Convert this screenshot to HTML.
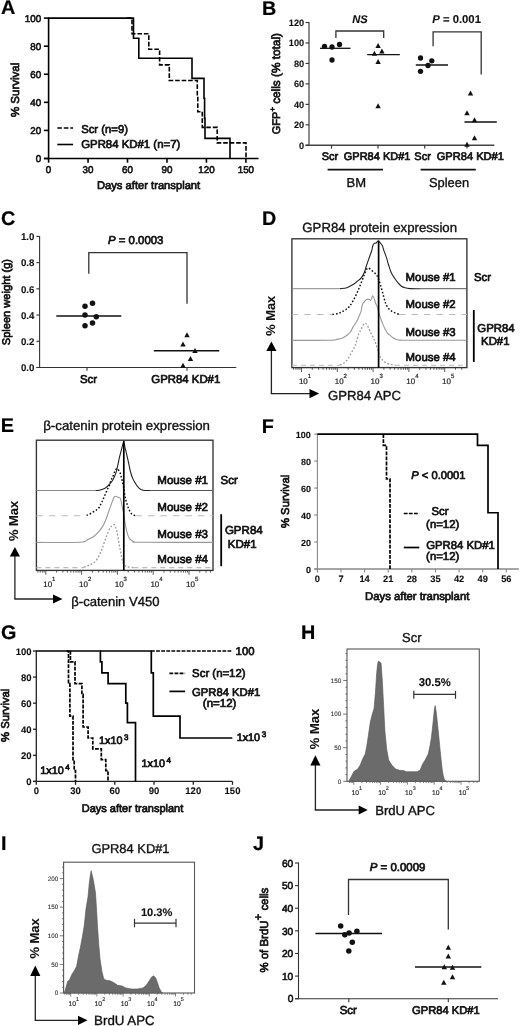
<!DOCTYPE html>
<html><head><meta charset="utf-8"><style>
html,body{margin:0;padding:0;background:#fff;width:520px;height:1026px;overflow:hidden}
svg{display:block}
text{text-rendering:geometricPrecision;font-family:"Liberation Sans", sans-serif}
</style></head><body>
<svg style="filter:blur(0.3px)" xmlns="http://www.w3.org/2000/svg" width="520" height="1026" viewBox="0 0 520 1026">
<rect width="520" height="1026" fill="#fff"/>
<g>
<text x="1" y="13.5" font-size="19.8" fill="#000" font-weight="bold" stroke="#000" stroke-width="0.2">A</text>
<line x1="48.6" y1="17.3" x2="48.6" y2="159.3" stroke="#000" stroke-width="1.6"/>
<line x1="43.9" y1="158.5" x2="258.5" y2="158.5" stroke="#000" stroke-width="1.6"/>
<line x1="43.9" y1="158.5" x2="48.6" y2="158.5" stroke="#000" stroke-width="1.6"/>
<text x="41.1" y="162.25" font-size="9.8" text-anchor="end" fill="#111" stroke="#111" stroke-width="0.6">0</text>
<line x1="43.9" y1="130.42" x2="48.6" y2="130.42" stroke="#000" stroke-width="1.6"/>
<text x="41.1" y="134.17" font-size="9.8" text-anchor="end" fill="#111" stroke="#111" stroke-width="0.6">20</text>
<line x1="43.9" y1="102.34" x2="48.6" y2="102.34" stroke="#000" stroke-width="1.6"/>
<text x="41.1" y="106.09" font-size="9.8" text-anchor="end" fill="#111" stroke="#111" stroke-width="0.6">40</text>
<line x1="43.9" y1="74.26" x2="48.6" y2="74.26" stroke="#000" stroke-width="1.6"/>
<text x="41.1" y="78.01" font-size="9.8" text-anchor="end" fill="#111" stroke="#111" stroke-width="0.6">60</text>
<line x1="43.9" y1="46.18" x2="48.6" y2="46.18" stroke="#000" stroke-width="1.6"/>
<text x="41.1" y="49.93" font-size="9.8" text-anchor="end" fill="#111" stroke="#111" stroke-width="0.6">80</text>
<line x1="43.9" y1="18.1" x2="48.6" y2="18.1" stroke="#000" stroke-width="1.6"/>
<text x="41.1" y="21.85" font-size="9.8" text-anchor="end" fill="#111" stroke="#111" stroke-width="0.6">100</text>
<line x1="48.6" y1="158.5" x2="48.6" y2="162.7" stroke="#000" stroke-width="1.6"/>
<text x="48.6" y="172.9" font-size="9.8" text-anchor="middle" fill="#111" stroke="#111" stroke-width="0.6">0</text>
<line x1="88.06" y1="158.5" x2="88.06" y2="162.7" stroke="#000" stroke-width="1.6"/>
<text x="88.06" y="172.9" font-size="9.8" text-anchor="middle" fill="#111" stroke="#111" stroke-width="0.6">30</text>
<line x1="127.52" y1="158.5" x2="127.52" y2="162.7" stroke="#000" stroke-width="1.6"/>
<text x="127.52" y="172.9" font-size="9.8" text-anchor="middle" fill="#111" stroke="#111" stroke-width="0.6">60</text>
<line x1="166.98" y1="158.5" x2="166.98" y2="162.7" stroke="#000" stroke-width="1.6"/>
<text x="166.98" y="172.9" font-size="9.8" text-anchor="middle" fill="#111" stroke="#111" stroke-width="0.6">90</text>
<line x1="206.44" y1="158.5" x2="206.44" y2="162.7" stroke="#000" stroke-width="1.6"/>
<text x="206.44" y="172.9" font-size="9.8" text-anchor="middle" fill="#111" stroke="#111" stroke-width="0.6">120</text>
<line x1="245.9" y1="158.5" x2="245.9" y2="162.7" stroke="#000" stroke-width="1.6"/>
<text x="245.9" y="172.9" font-size="9.8" text-anchor="middle" fill="#111" stroke="#111" stroke-width="0.6">150</text>
<text x="148.6" y="189" font-size="11.2" text-anchor="middle" fill="#111" stroke="#111" stroke-width="0.7">Days after transplant</text>
<text x="19" y="89.9" font-size="11.5" text-anchor="middle" fill="#111" stroke="#111" stroke-width="0.7" transform="rotate(-90 19 89.9)">% Survival</text>
<line x1="57.3" y1="128" x2="73.1" y2="128" stroke="#000" stroke-width="1.6" stroke-dasharray="4.6 1.9"/>
<text x="81.2" y="132.5" font-size="11.3" fill="#111" stroke="#111" stroke-width="0.7">Scr (n=9)</text>
<line x1="57.3" y1="144.5" x2="73.1" y2="144.5" stroke="#000" stroke-width="1.6"/>
<text x="81.2" y="148.2" font-size="11.4" fill="#111" stroke="#111" stroke-width="0.7">GPR84 KD#1 (n=7)</text>
<path d="M48.6 18.1 L133.5 18.1 L133.5 38.18 L138.8 38.18 L138.8 58.25 L192 58.25 L192 78.33 L204 78.33 L204 98.27 L204.6 98.27 L204.6 118.35 L205 118.35 L205 138.42 L230 138.42 L230 158.5" fill="none" stroke="#000" stroke-width="1.6"/>
<path d="M127 18.1 L132 18.1 L132 33.68 L148.8 33.68 L148.8 49.27 L159.6 49.27 L159.6 64.85 L169.3 64.85 L169.3 80.44 L197.3 80.44 L197.3 96.16 L197.8 96.16 L197.8 111.75 L202.3 111.75 L202.3 127.33 L217.2 127.33 L217.2 142.92 L246 142.92 L246 158.5" fill="none" stroke="#000" stroke-width="1.6" stroke-dasharray="4.6 1.9"/>
<text x="262.1" y="14.7" font-size="19.8" fill="#000" font-weight="bold" stroke="#000" stroke-width="0.2">B</text>
<line x1="309" y1="22" x2="309" y2="145.8" stroke="#666" stroke-width="1.5"/>
<line x1="305.6" y1="145.3" x2="494.3" y2="145.3" stroke="#444" stroke-width="1.4"/>
<line x1="305.6" y1="145.3" x2="309" y2="145.3" stroke="#333" stroke-width="1.15"/>
<text x="304.2" y="148.8" font-size="9.2" text-anchor="end" fill="#111" font-weight="bold" stroke="#111" stroke-width="0.1">0</text>
<line x1="305.6" y1="124.83" x2="309" y2="124.83" stroke="#333" stroke-width="1.15"/>
<text x="304.2" y="128.33" font-size="9.2" text-anchor="end" fill="#111" font-weight="bold" stroke="#111" stroke-width="0.1">20</text>
<line x1="305.6" y1="104.37" x2="309" y2="104.37" stroke="#333" stroke-width="1.15"/>
<text x="304.2" y="107.87" font-size="9.2" text-anchor="end" fill="#111" font-weight="bold" stroke="#111" stroke-width="0.1">40</text>
<line x1="305.6" y1="83.9" x2="309" y2="83.9" stroke="#333" stroke-width="1.15"/>
<text x="304.2" y="87.4" font-size="9.2" text-anchor="end" fill="#111" font-weight="bold" stroke="#111" stroke-width="0.1">60</text>
<line x1="305.6" y1="63.43" x2="309" y2="63.43" stroke="#333" stroke-width="1.15"/>
<text x="304.2" y="66.93" font-size="9.2" text-anchor="end" fill="#111" font-weight="bold" stroke="#111" stroke-width="0.1">80</text>
<line x1="305.6" y1="42.97" x2="309" y2="42.97" stroke="#333" stroke-width="1.15"/>
<text x="304.2" y="46.47" font-size="9.2" text-anchor="end" fill="#111" font-weight="bold" stroke="#111" stroke-width="0.1">100</text>
<line x1="305.6" y1="22.5" x2="309" y2="22.5" stroke="#333" stroke-width="1.15"/>
<text x="304.2" y="26" font-size="9.2" text-anchor="end" fill="#111" font-weight="bold" stroke="#111" stroke-width="0.1">120</text>
<line x1="331.5" y1="145.3" x2="331.5" y2="148.6" stroke="#333" stroke-width="1.15"/>
<line x1="378" y1="145.3" x2="378" y2="148.6" stroke="#333" stroke-width="1.15"/>
<line x1="424.7" y1="145.3" x2="424.7" y2="148.6" stroke="#333" stroke-width="1.15"/>
<line x1="467" y1="145.3" x2="467" y2="148.6" stroke="#333" stroke-width="1.15"/>
<text x="330" y="160.3" font-size="11" text-anchor="middle" fill="#111" stroke="#111" stroke-width="0.7">Scr</text>
<text x="377.1" y="160.3" font-size="11" text-anchor="middle" fill="#111" stroke="#111" stroke-width="0.7">GPR84 KD#1</text>
<text x="422.6" y="160.3" font-size="11" text-anchor="middle" fill="#111" stroke="#111" stroke-width="0.7">Scr</text>
<text x="470.3" y="160.3" font-size="11.1" text-anchor="middle" fill="#111" stroke="#111" stroke-width="0.7">GPR84 KD#1</text>
<line x1="327.6" y1="169.6" x2="383" y2="169.6" stroke="#111" stroke-width="1.8"/>
<line x1="420.6" y1="169.7" x2="475.8" y2="169.7" stroke="#111" stroke-width="1.8"/>
<text x="356.25" y="187.2" font-size="13" text-anchor="middle" fill="#111" stroke="#111" stroke-width="0.35">BM</text>
<text x="449" y="187.2" font-size="12.9" text-anchor="middle" fill="#111" stroke="#111" stroke-width="0.35">Spleen</text>
<text x="280" y="134.2" font-size="11" fill="#111" stroke="#111" stroke-width="0.7" transform="rotate(-90 280 134.2)">GFP<tspan font-size="7.6" dy="-4.6">+</tspan><tspan dy="4.6" font-size="11.8"> cells (% total)</tspan></text>
<text x="359.9" y="22.6" font-size="11.2" text-anchor="middle" fill="#111" font-weight="bold" font-style="italic" stroke="#111" stroke-width="0.1">NS</text>
<path d="M335.9 38 L335.9 31 L383.7 31 L383.7 38" fill="none" stroke="#333" stroke-width="1.3"/>
<text x="456.6" y="22.6" font-size="11.3" text-anchor="middle" fill="#111" font-weight="bold" stroke="#111" stroke-width="0.1"><tspan font-style="italic">P</tspan> = 0.001</text>
<path d="M433.1 46.3 L433.1 31.8 L481.2 31.8 L481.2 74.5" fill="none" stroke="#333" stroke-width="1.3"/>
<circle cx="324.5" cy="46.3" r="2.65" fill="#111"/>
<circle cx="332" cy="47" r="2.65" fill="#111"/>
<circle cx="339.5" cy="44.5" r="2.65" fill="#111"/>
<circle cx="332" cy="60" r="2.65" fill="#111"/>
<line x1="320" y1="48.3" x2="350.5" y2="48.3" stroke="#111" stroke-width="1.3"/>
<path d="M378.1 43.07L380.8 48.04L375.4 48.04Z" fill="#111"/>
<path d="M374.4 50.67L377.1 55.64L371.7 55.64Z" fill="#111"/>
<path d="M381.9 48.47L384.6 53.44L379.2 53.44Z" fill="#111"/>
<path d="M378.1 59.07L380.8 64.04L375.4 64.04Z" fill="#111"/>
<path d="M378.1 103.17L380.8 108.14L375.4 108.14Z" fill="#111"/>
<line x1="367.2" y1="54.6" x2="399.8" y2="54.6" stroke="#111" stroke-width="1.3"/>
<circle cx="420.5" cy="58" r="2.65" fill="#111"/>
<circle cx="431.8" cy="60.8" r="2.65" fill="#111"/>
<circle cx="428" cy="65.5" r="2.65" fill="#111"/>
<circle cx="420.5" cy="71.3" r="2.65" fill="#111"/>
<line x1="415.8" y1="65" x2="448" y2="65" stroke="#111" stroke-width="1.3"/>
<path d="M470.5 90.57L473.2 95.54L467.8 95.54Z" fill="#111"/>
<path d="M467 110.27L469.7 115.24L464.3 115.24Z" fill="#111"/>
<path d="M474.5 117.27L477.2 122.24L471.8 122.24Z" fill="#111"/>
<path d="M474.5 135.27L477.2 140.24L471.8 140.24Z" fill="#111"/>
<path d="M467 141.87L469.7 146.84L464.3 146.84Z" fill="#111"/>
<line x1="464.5" y1="122" x2="496.8" y2="122" stroke="#111" stroke-width="1.3"/>
<text x="0.9" y="225.1" font-size="19.8" fill="#000" font-weight="bold" stroke="#000" stroke-width="0.2">C</text>
<line x1="39.6" y1="235.9" x2="39.6" y2="368" stroke="#333" stroke-width="1.1"/>
<line x1="36.4" y1="367.5" x2="236.3" y2="367.5" stroke="#333" stroke-width="1.1"/>
<line x1="36.4" y1="367.5" x2="39.6" y2="367.5" stroke="#333" stroke-width="1.1"/>
<text x="34.4" y="371.3" font-size="9.7" text-anchor="end" fill="#111" font-weight="bold" stroke="#111" stroke-width="0.1">0.0</text>
<line x1="36.4" y1="341.28" x2="39.6" y2="341.28" stroke="#333" stroke-width="1.1"/>
<text x="34.4" y="345.08" font-size="9.7" text-anchor="end" fill="#111" font-weight="bold" stroke="#111" stroke-width="0.1">0.2</text>
<line x1="36.4" y1="315.06" x2="39.6" y2="315.06" stroke="#333" stroke-width="1.1"/>
<text x="34.4" y="318.86" font-size="9.7" text-anchor="end" fill="#111" font-weight="bold" stroke="#111" stroke-width="0.1">0.4</text>
<line x1="36.4" y1="288.84" x2="39.6" y2="288.84" stroke="#333" stroke-width="1.1"/>
<text x="34.4" y="292.64" font-size="9.7" text-anchor="end" fill="#111" font-weight="bold" stroke="#111" stroke-width="0.1">0.6</text>
<line x1="36.4" y1="262.62" x2="39.6" y2="262.62" stroke="#333" stroke-width="1.1"/>
<text x="34.4" y="266.42" font-size="9.7" text-anchor="end" fill="#111" font-weight="bold" stroke="#111" stroke-width="0.1">0.8</text>
<line x1="36.4" y1="236.4" x2="39.6" y2="236.4" stroke="#333" stroke-width="1.1"/>
<text x="34.4" y="240.2" font-size="9.7" text-anchor="end" fill="#111" font-weight="bold" stroke="#111" stroke-width="0.1">1.0</text>
<line x1="87" y1="367.5" x2="87" y2="370.8" stroke="#333" stroke-width="1.1"/>
<line x1="187" y1="367.5" x2="187" y2="370.8" stroke="#333" stroke-width="1.1"/>
<text x="88.5" y="382.6" font-size="11.4" text-anchor="middle" fill="#111" stroke="#111" stroke-width="0.7">Scr</text>
<text x="185.8" y="382.6" font-size="11.4" text-anchor="middle" fill="#111" stroke="#111" stroke-width="0.7">GPR84 KD#1</text>
<text x="10" y="302.1" font-size="11.1" text-anchor="middle" fill="#111" stroke="#111" stroke-width="0.7" transform="rotate(-90 10 302.1)">Spleen weight (g)</text>
<text x="135.7" y="243.5" font-size="11.4" text-anchor="middle" fill="#111" stroke="#111" stroke-width="0.7"><tspan font-style="italic">P</tspan> = 0.0003</text>
<path d="M88.8 273.8 L88.8 252.6 L187 252.6 L187 303.8" fill="none" stroke="#333" stroke-width="1.3"/>
<circle cx="85" cy="306.3" r="2.75" fill="#111"/>
<circle cx="92.5" cy="303.3" r="2.75" fill="#111"/>
<circle cx="85" cy="315" r="2.75" fill="#111"/>
<circle cx="96.3" cy="316.8" r="2.75" fill="#111"/>
<circle cx="85" cy="325.8" r="2.75" fill="#111"/>
<circle cx="92.5" cy="323" r="2.75" fill="#111"/>
<line x1="56.3" y1="316" x2="121.3" y2="316" stroke="#111" stroke-width="1.5"/>
<path d="M187 332.27L189.7 337.24L184.3 337.24Z" fill="#111"/>
<path d="M183 341.57L185.7 346.54L180.3 346.54Z" fill="#111"/>
<path d="M195 348.07L197.7 353.04L192.3 353.04Z" fill="#111"/>
<path d="M190.5 356.07L193.2 361.04L187.8 361.04Z" fill="#111"/>
<path d="M183 362.77L185.7 367.74L180.3 367.74Z" fill="#111"/>
<line x1="153.8" y1="350.8" x2="219.3" y2="350.8" stroke="#111" stroke-width="1.5"/>
<text x="262.1" y="224.9" font-size="19.8" fill="#000" font-weight="bold" stroke="#000" stroke-width="0.2">D</text>
<text x="379.7" y="232" font-size="13.2" text-anchor="middle" fill="#111" stroke="#111" stroke-width="0.35">GPR84 protein expression</text>
<rect x="291.9" y="238.8" width="175" height="128.8" fill="none" stroke="#333" stroke-width="1.35"/>
<line x1="293.56" y1="367.6" x2="293.56" y2="369.8" stroke="#333" stroke-width="0.8"/>
<line x1="295.95" y1="367.6" x2="295.95" y2="369.8" stroke="#333" stroke-width="0.8"/>
<line x1="298.03" y1="367.6" x2="298.03" y2="369.8" stroke="#333" stroke-width="0.8"/>
<line x1="299.86" y1="367.6" x2="299.86" y2="369.8" stroke="#333" stroke-width="0.8"/>
<line x1="301.5" y1="367.6" x2="301.5" y2="372" stroke="#333" stroke-width="0.8"/>
<line x1="312.28" y1="367.6" x2="312.28" y2="369.8" stroke="#333" stroke-width="0.8"/>
<line x1="318.58" y1="367.6" x2="318.58" y2="369.8" stroke="#333" stroke-width="0.8"/>
<line x1="323.05" y1="367.6" x2="323.05" y2="369.8" stroke="#333" stroke-width="0.8"/>
<line x1="326.52" y1="367.6" x2="326.52" y2="369.8" stroke="#333" stroke-width="0.8"/>
<line x1="329.36" y1="367.6" x2="329.36" y2="369.8" stroke="#333" stroke-width="0.8"/>
<line x1="331.75" y1="367.6" x2="331.75" y2="369.8" stroke="#333" stroke-width="0.8"/>
<line x1="333.83" y1="367.6" x2="333.83" y2="369.8" stroke="#333" stroke-width="0.8"/>
<line x1="335.66" y1="367.6" x2="335.66" y2="369.8" stroke="#333" stroke-width="0.8"/>
<line x1="337.3" y1="367.6" x2="337.3" y2="372" stroke="#333" stroke-width="0.8"/>
<line x1="348.08" y1="367.6" x2="348.08" y2="369.8" stroke="#333" stroke-width="0.8"/>
<line x1="354.38" y1="367.6" x2="354.38" y2="369.8" stroke="#333" stroke-width="0.8"/>
<line x1="358.85" y1="367.6" x2="358.85" y2="369.8" stroke="#333" stroke-width="0.8"/>
<line x1="362.32" y1="367.6" x2="362.32" y2="369.8" stroke="#333" stroke-width="0.8"/>
<line x1="365.16" y1="367.6" x2="365.16" y2="369.8" stroke="#333" stroke-width="0.8"/>
<line x1="367.55" y1="367.6" x2="367.55" y2="369.8" stroke="#333" stroke-width="0.8"/>
<line x1="369.63" y1="367.6" x2="369.63" y2="369.8" stroke="#333" stroke-width="0.8"/>
<line x1="371.46" y1="367.6" x2="371.46" y2="369.8" stroke="#333" stroke-width="0.8"/>
<line x1="373.1" y1="367.6" x2="373.1" y2="372" stroke="#333" stroke-width="0.8"/>
<line x1="383.88" y1="367.6" x2="383.88" y2="369.8" stroke="#333" stroke-width="0.8"/>
<line x1="390.18" y1="367.6" x2="390.18" y2="369.8" stroke="#333" stroke-width="0.8"/>
<line x1="394.65" y1="367.6" x2="394.65" y2="369.8" stroke="#333" stroke-width="0.8"/>
<line x1="398.12" y1="367.6" x2="398.12" y2="369.8" stroke="#333" stroke-width="0.8"/>
<line x1="400.96" y1="367.6" x2="400.96" y2="369.8" stroke="#333" stroke-width="0.8"/>
<line x1="403.35" y1="367.6" x2="403.35" y2="369.8" stroke="#333" stroke-width="0.8"/>
<line x1="405.43" y1="367.6" x2="405.43" y2="369.8" stroke="#333" stroke-width="0.8"/>
<line x1="407.26" y1="367.6" x2="407.26" y2="369.8" stroke="#333" stroke-width="0.8"/>
<line x1="408.9" y1="367.6" x2="408.9" y2="372" stroke="#333" stroke-width="0.8"/>
<line x1="419.68" y1="367.6" x2="419.68" y2="369.8" stroke="#333" stroke-width="0.8"/>
<line x1="425.98" y1="367.6" x2="425.98" y2="369.8" stroke="#333" stroke-width="0.8"/>
<line x1="430.45" y1="367.6" x2="430.45" y2="369.8" stroke="#333" stroke-width="0.8"/>
<line x1="433.92" y1="367.6" x2="433.92" y2="369.8" stroke="#333" stroke-width="0.8"/>
<line x1="436.76" y1="367.6" x2="436.76" y2="369.8" stroke="#333" stroke-width="0.8"/>
<line x1="439.15" y1="367.6" x2="439.15" y2="369.8" stroke="#333" stroke-width="0.8"/>
<line x1="441.23" y1="367.6" x2="441.23" y2="369.8" stroke="#333" stroke-width="0.8"/>
<line x1="443.06" y1="367.6" x2="443.06" y2="369.8" stroke="#333" stroke-width="0.8"/>
<line x1="444.7" y1="367.6" x2="444.7" y2="372" stroke="#333" stroke-width="0.8"/>
<line x1="455.48" y1="367.6" x2="455.48" y2="369.8" stroke="#333" stroke-width="0.8"/>
<line x1="461.78" y1="367.6" x2="461.78" y2="369.8" stroke="#333" stroke-width="0.8"/>
<text x="298.9" y="383.7" font-size="8" fill="#222" stroke="#222" stroke-width="0.2">10<tspan font-size="6" dy="-5.5">1</tspan></text>
<text x="334.7" y="383.7" font-size="8" fill="#222" stroke="#222" stroke-width="0.2">10<tspan font-size="6" dy="-5.5">2</tspan></text>
<text x="370.5" y="383.7" font-size="8" fill="#222" stroke="#222" stroke-width="0.2">10<tspan font-size="6" dy="-5.5">3</tspan></text>
<text x="406.3" y="383.7" font-size="8" fill="#222" stroke="#222" stroke-width="0.2">10<tspan font-size="6" dy="-5.5">4</tspan></text>
<text x="442.1" y="383.7" font-size="8" fill="#222" stroke="#222" stroke-width="0.2">10<tspan font-size="6" dy="-5.5">5</tspan></text>
<line x1="291.9" y1="288.7" x2="341" y2="288.7" stroke="#888" stroke-width="1"/>
<path d="M340 288.7 C341.15 288.53 344.78 288.35 346.9 287.7 C349.02 287.05 350.97 285.87 352.7 284.8 C354.43 283.73 355.87 282.45 357.3 281.3 C358.73 280.15 360.15 279.33 361.3 277.9 C362.45 276.47 363.33 274.77 364.2 272.7 C365.07 270.63 365.63 268.08 366.5 265.5 C367.37 262.92 368.52 259.72 369.4 257.2 C370.28 254.68 371.23 252.3 371.8 250.4 C372.37 248.5 372.4 246.97 372.8 245.8 C373.2 244.63 373.63 243.87 374.2 243.4 C374.77 242.93 375.55 243.4 376.2 243 C376.85 242.6 377.38 240.97 378.1 241 C378.82 241.03 379.78 242.4 380.5 243.2 C381.22 244 381.85 244.6 382.4 245.8 C382.95 247 383.15 248.5 383.8 250.4 C384.45 252.3 385.5 254.77 386.3 257.2 C387.1 259.63 387.77 262.42 388.6 265 C389.43 267.58 390.27 270.45 391.3 272.7 C392.33 274.95 393.63 276.77 394.8 278.5 C395.97 280.23 397.18 281.82 398.3 283.1 C399.42 284.38 400.38 285.42 401.5 286.2 C402.62 286.98 403.58 287.4 405 287.8 C406.42 288.2 407.5 288.45 410 288.6 C412.5 288.75 418.33 288.68 420 288.7" fill="none" stroke="#222" stroke-width="1.1"/>
<line x1="420" y1="288.7" x2="466.9" y2="288.7" stroke="#555" stroke-width="1"/>
<line x1="291.9" y1="314.5" x2="332.5" y2="314.5" stroke="#bbb" stroke-width="1.1" stroke-dasharray="6.5 6"/>
<line x1="399" y1="314.5" x2="466.9" y2="314.5" stroke="#bbb" stroke-width="1.1" stroke-dasharray="6.5 6"/>
<path d="M332.5 314.5 C333.42 314.33 336.47 313.93 338 313.5 C339.53 313.07 340.37 312.57 341.7 311.9 C343.03 311.23 344.7 310.43 346 309.5 C347.3 308.57 348.28 307.82 349.5 306.3 C350.72 304.78 352 302.73 353.3 300.4 C354.6 298.07 356.05 295.08 357.3 292.3 C358.55 289.52 359.65 286.58 360.8 283.7 C361.95 280.82 363.3 277.25 364.2 275 C365.1 272.75 365.63 271.33 366.2 270.2 C366.77 269.07 366.97 268.42 367.6 268.2 C368.23 267.98 369.1 268.35 370 268.9 C370.9 269.45 371.97 270.57 373 271.5 C374.03 272.43 375.35 273.43 376.2 274.5 C377.05 275.57 377.4 276.18 378.1 277.9 C378.8 279.62 379.63 282.3 380.4 284.8 C381.17 287.3 381.93 290.12 382.7 292.9 C383.47 295.68 384.33 299.38 385 301.5 C385.67 303.62 386.03 304.35 386.7 305.6 C387.37 306.85 388.13 308.05 389 309 C389.87 309.95 390.83 310.62 391.9 311.3 C392.97 311.98 394.22 312.6 395.4 313.1 C396.58 313.6 398.4 314.1 399 314.3" fill="none" stroke="#111" stroke-width="1.5" stroke-dasharray="1.6 1.9"/>
<path d="M291.9 340.4 C298.25 340.37 322.5 340.37 330 340.2 C337.5 340.03 334.78 339.78 336.9 339.4 C339.02 339.02 340.97 338.63 342.7 337.9 C344.43 337.17 345.95 336.07 347.3 335 C348.65 333.93 349.83 332.85 350.8 331.5 C351.77 330.15 352.33 328.23 353.1 326.9 C353.87 325.57 354.63 324.75 355.4 323.5 C356.17 322.25 357.03 320.75 357.7 319.4 C358.37 318.05 358.82 316.83 359.4 315.4 C359.98 313.97 360.72 312.53 361.2 310.8 C361.68 309.07 361.83 306.45 362.3 305 C362.77 303.55 363.33 302.97 364 302.1 C364.67 301.23 365.52 300.28 366.3 299.8 C367.08 299.32 368.02 299.1 368.7 299.2 C369.38 299.3 369.93 300.48 370.4 300.4 C370.87 300.32 371.12 299.47 371.5 298.7 C371.88 297.93 372.22 295.72 372.7 295.8 C373.18 295.88 373.92 297.95 374.4 299.2 C374.88 300.45 375.12 302.05 375.6 303.3 C376.08 304.55 376.73 305.07 377.3 306.7 C377.87 308.33 378.42 311.08 379 313.1 C379.58 315.12 380.12 316.88 380.8 318.8 C381.48 320.72 382.33 322.77 383.1 324.6 C383.87 326.43 384.63 328.35 385.4 329.8 C386.17 331.25 386.93 332.4 387.7 333.3 C388.47 334.2 389.12 334.45 390 335.2 C390.88 335.95 391.92 337.1 393 337.8 C394.08 338.5 395.33 339.02 396.5 339.4 C397.67 339.78 398.58 339.95 400 340.1 C401.42 340.25 402.5 340.27 405 340.3 C407.5 340.33 404.68 340.3 415 340.3 C425.32 340.3 458.25 340.3 466.9 340.3" fill="none" stroke="#999" stroke-width="1.1"/>
<line x1="291.9" y1="365.3" x2="340" y2="365.3" stroke="#bbb" stroke-width="1.1" stroke-dasharray="5 4"/>
<path d="M340 365 C340.67 364.67 342.75 363.92 344 363 C345.25 362.08 346.33 361.08 347.5 359.5 C348.67 357.92 349.92 355.42 351 353.5 C352.08 351.58 353.17 349.75 354 348 C354.83 346.25 355.2 345.37 356 343 C356.8 340.63 357.93 336.1 358.8 333.8 C359.67 331.5 360.42 330.73 361.2 329.2 C361.98 327.67 362.83 325.58 363.5 324.6 C364.17 323.62 364.63 323.3 365.2 323.3 C365.77 323.3 366.23 323.62 366.9 324.6 C367.57 325.58 368.43 327.57 369.2 329.2 C369.97 330.83 370.73 332.85 371.5 334.4 C372.27 335.95 373.12 337.05 373.8 338.5 C374.48 339.95 374.9 341.1 375.6 343.1 C376.3 345.1 377.27 348.3 378 350.5 C378.73 352.7 379.17 354.63 380 356.3 C380.83 357.97 381.95 359.42 383 360.5 C384.05 361.58 385.13 362.17 386.3 362.8 C387.47 363.43 388.55 363.93 390 364.3 C391.45 364.67 394.17 364.88 395 365" fill="none" stroke="#999" stroke-width="1.3" stroke-dasharray="1.8 1.8"/>
<line x1="395" y1="365.3" x2="466.9" y2="365.3" stroke="#bbb" stroke-width="1.1" stroke-dasharray="5 4"/>
<line x1="378.6" y1="240.5" x2="378.6" y2="367.6" stroke="#000" stroke-width="1.7"/>
<text x="455.6" y="280.5" font-size="11.4" text-anchor="end" fill="#111" stroke="#111" stroke-width="0.7">Mouse #1</text>
<text x="455.6" y="307.9" font-size="11.4" text-anchor="end" fill="#111" stroke="#111" stroke-width="0.7">Mouse #2</text>
<text x="455.6" y="335.5" font-size="11.4" text-anchor="end" fill="#111" stroke="#111" stroke-width="0.7">Mouse #3</text>
<text x="455.6" y="361.2" font-size="11.4" text-anchor="end" fill="#111" stroke="#111" stroke-width="0.7">Mouse #4</text>
<text x="474" y="280.5" font-size="11.4" fill="#111" stroke="#111" stroke-width="0.7">Scr</text>
<line x1="473.8" y1="310" x2="473.8" y2="361.9" stroke="#000" stroke-width="1.8"/>
<text x="496" y="331.6" font-size="11.4" text-anchor="middle" fill="#111" stroke="#111" stroke-width="0.7">GPR84</text>
<text x="495.3" y="345" font-size="11.4" text-anchor="middle" fill="#111" stroke="#111" stroke-width="0.7">KD#1</text>
<text x="275.5" y="315.8" font-size="12.9" text-anchor="middle" fill="#111" font-weight="bold" stroke="#111" stroke-width="0.1" transform="rotate(-90 275.5 315.8)">% Max</text>
<line x1="271.4" y1="350.5" x2="271.4" y2="393.6" stroke="#222" stroke-width="1.3"/>
<path d="M271.4 341.5 L276.5 351 L266.3 351Z" fill="#000" stroke="none"/>
<line x1="270.75" y1="393.6" x2="310" y2="393.6" stroke="#222" stroke-width="1.3"/>
<path d="M319.2 393.6 L309.5 389 L309.5 398.2Z" fill="#000" stroke="none"/>
<text x="328.1" y="400" font-size="13.1" fill="#111" stroke="#111" stroke-width="0.35">GPR84 APC</text>
<text x="0.7" y="432.3" font-size="19.8" fill="#000" font-weight="bold" stroke="#000" stroke-width="0.2">E</text>
<text x="126.6" y="429.8" font-size="13.25" text-anchor="middle" fill="#111" stroke="#111" stroke-width="0.35">β-catenin protein expression</text>
<rect x="36.4" y="440.2" width="176.6" height="130.2" fill="none" stroke="#333" stroke-width="1.35"/>
<line x1="37.86" y1="570.4" x2="37.86" y2="572.6" stroke="#333" stroke-width="0.8"/>
<line x1="40.25" y1="570.4" x2="40.25" y2="572.6" stroke="#333" stroke-width="0.8"/>
<line x1="42.33" y1="570.4" x2="42.33" y2="572.6" stroke="#333" stroke-width="0.8"/>
<line x1="44.16" y1="570.4" x2="44.16" y2="572.6" stroke="#333" stroke-width="0.8"/>
<line x1="45.8" y1="570.4" x2="45.8" y2="574.8" stroke="#333" stroke-width="0.8"/>
<line x1="56.58" y1="570.4" x2="56.58" y2="572.6" stroke="#333" stroke-width="0.8"/>
<line x1="62.88" y1="570.4" x2="62.88" y2="572.6" stroke="#333" stroke-width="0.8"/>
<line x1="67.35" y1="570.4" x2="67.35" y2="572.6" stroke="#333" stroke-width="0.8"/>
<line x1="70.82" y1="570.4" x2="70.82" y2="572.6" stroke="#333" stroke-width="0.8"/>
<line x1="73.66" y1="570.4" x2="73.66" y2="572.6" stroke="#333" stroke-width="0.8"/>
<line x1="76.05" y1="570.4" x2="76.05" y2="572.6" stroke="#333" stroke-width="0.8"/>
<line x1="78.13" y1="570.4" x2="78.13" y2="572.6" stroke="#333" stroke-width="0.8"/>
<line x1="79.96" y1="570.4" x2="79.96" y2="572.6" stroke="#333" stroke-width="0.8"/>
<line x1="81.6" y1="570.4" x2="81.6" y2="574.8" stroke="#333" stroke-width="0.8"/>
<line x1="92.38" y1="570.4" x2="92.38" y2="572.6" stroke="#333" stroke-width="0.8"/>
<line x1="98.68" y1="570.4" x2="98.68" y2="572.6" stroke="#333" stroke-width="0.8"/>
<line x1="103.15" y1="570.4" x2="103.15" y2="572.6" stroke="#333" stroke-width="0.8"/>
<line x1="106.62" y1="570.4" x2="106.62" y2="572.6" stroke="#333" stroke-width="0.8"/>
<line x1="109.46" y1="570.4" x2="109.46" y2="572.6" stroke="#333" stroke-width="0.8"/>
<line x1="111.85" y1="570.4" x2="111.85" y2="572.6" stroke="#333" stroke-width="0.8"/>
<line x1="113.93" y1="570.4" x2="113.93" y2="572.6" stroke="#333" stroke-width="0.8"/>
<line x1="115.76" y1="570.4" x2="115.76" y2="572.6" stroke="#333" stroke-width="0.8"/>
<line x1="117.4" y1="570.4" x2="117.4" y2="574.8" stroke="#333" stroke-width="0.8"/>
<line x1="128.18" y1="570.4" x2="128.18" y2="572.6" stroke="#333" stroke-width="0.8"/>
<line x1="134.48" y1="570.4" x2="134.48" y2="572.6" stroke="#333" stroke-width="0.8"/>
<line x1="138.95" y1="570.4" x2="138.95" y2="572.6" stroke="#333" stroke-width="0.8"/>
<line x1="142.42" y1="570.4" x2="142.42" y2="572.6" stroke="#333" stroke-width="0.8"/>
<line x1="145.26" y1="570.4" x2="145.26" y2="572.6" stroke="#333" stroke-width="0.8"/>
<line x1="147.65" y1="570.4" x2="147.65" y2="572.6" stroke="#333" stroke-width="0.8"/>
<line x1="149.73" y1="570.4" x2="149.73" y2="572.6" stroke="#333" stroke-width="0.8"/>
<line x1="151.56" y1="570.4" x2="151.56" y2="572.6" stroke="#333" stroke-width="0.8"/>
<line x1="153.2" y1="570.4" x2="153.2" y2="574.8" stroke="#333" stroke-width="0.8"/>
<line x1="163.98" y1="570.4" x2="163.98" y2="572.6" stroke="#333" stroke-width="0.8"/>
<line x1="170.28" y1="570.4" x2="170.28" y2="572.6" stroke="#333" stroke-width="0.8"/>
<line x1="174.75" y1="570.4" x2="174.75" y2="572.6" stroke="#333" stroke-width="0.8"/>
<line x1="178.22" y1="570.4" x2="178.22" y2="572.6" stroke="#333" stroke-width="0.8"/>
<line x1="181.06" y1="570.4" x2="181.06" y2="572.6" stroke="#333" stroke-width="0.8"/>
<line x1="183.45" y1="570.4" x2="183.45" y2="572.6" stroke="#333" stroke-width="0.8"/>
<line x1="185.53" y1="570.4" x2="185.53" y2="572.6" stroke="#333" stroke-width="0.8"/>
<line x1="187.36" y1="570.4" x2="187.36" y2="572.6" stroke="#333" stroke-width="0.8"/>
<line x1="189" y1="570.4" x2="189" y2="574.8" stroke="#333" stroke-width="0.8"/>
<line x1="199.78" y1="570.4" x2="199.78" y2="572.6" stroke="#333" stroke-width="0.8"/>
<line x1="206.08" y1="570.4" x2="206.08" y2="572.6" stroke="#333" stroke-width="0.8"/>
<line x1="210.55" y1="570.4" x2="210.55" y2="572.6" stroke="#333" stroke-width="0.8"/>
<text x="43.2" y="586.8" font-size="8" fill="#222" stroke="#222" stroke-width="0.2">10<tspan font-size="6" dy="-5.5">1</tspan></text>
<text x="79" y="586.8" font-size="8" fill="#222" stroke="#222" stroke-width="0.2">10<tspan font-size="6" dy="-5.5">2</tspan></text>
<text x="114.7" y="586.8" font-size="8" fill="#222" stroke="#222" stroke-width="0.2">10<tspan font-size="6" dy="-5.5">3</tspan></text>
<text x="150.4" y="586.8" font-size="8" fill="#222" stroke="#222" stroke-width="0.2">10<tspan font-size="6" dy="-5.5">4</tspan></text>
<text x="186.1" y="586.8" font-size="8" fill="#222" stroke="#222" stroke-width="0.2">10<tspan font-size="6" dy="-5.5">5</tspan></text>
<line x1="36.4" y1="490.5" x2="96" y2="490.5" stroke="#888" stroke-width="1"/>
<path d="M95.8 490.5 C96.37 490.45 97.67 490.58 99.2 490.2 C100.73 489.82 103.27 489.2 105 488.2 C106.73 487.2 108.25 485.65 109.6 484.2 C110.95 482.75 112.03 481.43 113.1 479.5 C114.17 477.57 115.23 474.9 116 472.6 C116.77 470.3 117.13 468.2 117.7 465.7 C118.27 463.2 118.82 460.1 119.4 457.6 C119.98 455.1 120.52 453.23 121.2 450.7 C121.88 448.17 122.83 442.78 123.5 442.4 C124.17 442.02 124.63 446.25 125.2 448.4 C125.77 450.55 126.32 452.8 126.9 455.3 C127.48 457.8 128.12 460.7 128.7 463.4 C129.28 466.1 129.73 469 130.4 471.5 C131.07 474 131.83 476.38 132.7 478.4 C133.57 480.42 134.55 481.97 135.6 483.6 C136.65 485.23 137.75 487.08 139 488.2 C140.25 489.32 141.27 489.92 143.1 490.3 C144.93 490.68 148.85 490.47 150 490.5" fill="none" stroke="#222" stroke-width="1.1"/>
<line x1="150" y1="490.5" x2="213" y2="490.5" stroke="#555" stroke-width="1"/>
<line x1="36.4" y1="515.8" x2="86.5" y2="515.8" stroke="#bbb" stroke-width="1.1" stroke-dasharray="6.5 6"/>
<path d="M86.5 515.2 C86.87 515.1 87.67 515.08 88.7 514.6 C89.73 514.12 91.45 513.03 92.7 512.3 C93.95 511.57 95.15 510.97 96.2 510.2 C97.25 509.43 98.23 508.7 99 507.7 C99.77 506.7 100.22 505.35 100.8 504.2 C101.38 503.05 101.93 502.05 102.5 500.8 C103.07 499.55 103.62 498.05 104.2 496.7 C104.78 495.35 105.42 494.03 106 492.7 C106.58 491.37 107.13 489.95 107.7 488.7 C108.27 487.45 108.8 486.73 109.4 485.2 C110 483.67 110.68 481.02 111.3 479.5 C111.92 477.98 112.52 477.43 113.1 476.1 C113.68 474.77 114.13 472.75 114.8 471.5 C115.47 470.25 116.23 468.42 117.1 468.6 C117.97 468.78 119.32 471.25 120 472.6 C120.68 473.95 120.82 475.25 121.2 476.7 C121.58 478.15 121.92 479.67 122.3 481.3 C122.68 482.93 123.12 484.47 123.5 486.5 C123.88 488.53 124.25 491.42 124.6 493.5 C124.95 495.58 125.15 497.12 125.6 499 C126.05 500.88 126.73 503.07 127.3 504.8 C127.87 506.53 128.33 507.95 129 509.4 C129.67 510.85 130.23 512.43 131.3 513.5 C132.37 514.57 134.72 515.42 135.4 515.8" fill="none" stroke="#111" stroke-width="1.5" stroke-dasharray="1.6 1.9"/>
<line x1="135.4" y1="515.8" x2="213" y2="515.8" stroke="#bbb" stroke-width="1.1" stroke-dasharray="6.5 6"/>
<path d="M36.4 542.4 C43.67 542.38 71.58 542.7 80 542.3 C88.42 541.9 84.6 540.97 86.9 540 C89.2 539.03 91.78 537.95 93.8 536.5 C95.82 535.05 97.45 533.12 99 531.3 C100.55 529.48 101.93 527.62 103.1 525.6 C104.27 523.58 105.05 521.6 106 519.2 C106.95 516.8 107.85 513.88 108.8 511.2 C109.75 508.52 110.83 505.42 111.7 503.1 C112.57 500.78 113.32 498.45 114 497.3 C114.68 496.15 115.12 496.2 115.8 496.2 C116.48 496.2 117.33 496.92 118.1 497.3 C118.87 497.68 119.83 497.53 120.4 498.5 C120.97 499.47 121.12 501.38 121.5 503.1 C121.88 504.82 122.32 506.88 122.7 508.8 C123.08 510.72 123.32 511.7 123.8 514.6 C124.28 517.5 125.02 523.12 125.6 526.2 C126.18 529.28 126.63 531 127.3 533.1 C127.97 535.2 128.45 537.37 129.6 538.8 C130.75 540.23 132.47 541.12 134.2 541.7 C135.93 542.28 126.87 542.18 140 542.3 C153.13 542.42 200.83 542.38 213 542.4" fill="none" stroke="#999" stroke-width="1.1"/>
<line x1="36.4" y1="567.6" x2="84" y2="567.6" stroke="#bbb" stroke-width="1.1" stroke-dasharray="5 4"/>
<path d="M84 567.2 C84.58 566.97 86.33 566.27 87.5 565.8 C88.67 565.33 89.88 564.97 91 564.4 C92.12 563.83 93.1 563.4 94.2 562.4 C95.3 561.4 96.58 559.97 97.6 558.4 C98.62 556.83 99.52 554.68 100.3 553 C101.08 551.32 101.63 550.1 102.3 548.3 C102.97 546.5 103.63 544.12 104.3 542.2 C104.97 540.28 105.62 538.6 106.3 536.8 C106.98 535 107.72 532.97 108.4 531.4 C109.08 529.83 109.73 528.35 110.4 527.4 C111.07 526.45 111.73 526.15 112.4 525.7 C113.07 525.25 113.73 524.08 114.4 524.7 C115.07 525.32 115.83 527.48 116.4 529.4 C116.97 531.32 117.35 533.73 117.8 536.2 C118.25 538.67 118.65 541.73 119.1 544.2 C119.55 546.67 120.05 548.75 120.5 551 C120.95 553.25 121.35 555.68 121.8 557.7 C122.25 559.72 122.42 561.65 123.2 563.1 C123.98 564.55 124.82 565.65 126.5 566.4 C128.18 567.15 132.17 567.4 133.3 567.6" fill="none" stroke="#999" stroke-width="1.3" stroke-dasharray="1.8 1.8"/>
<line x1="133.3" y1="567.6" x2="213" y2="567.6" stroke="#bbb" stroke-width="1.1" stroke-dasharray="5 4"/>
<line x1="123.8" y1="441" x2="123.8" y2="570.4" stroke="#000" stroke-width="1.7"/>
<text x="208" y="483.6" font-size="11.55" text-anchor="end" fill="#111" stroke="#111" stroke-width="0.7">Mouse #1</text>
<text x="208" y="510.6" font-size="11.55" text-anchor="end" fill="#111" stroke="#111" stroke-width="0.7">Mouse #2</text>
<text x="208" y="538.3" font-size="11.55" text-anchor="end" fill="#111" stroke="#111" stroke-width="0.7">Mouse #3</text>
<text x="208" y="563.3" font-size="11.55" text-anchor="end" fill="#111" stroke="#111" stroke-width="0.7">Mouse #4</text>
<text x="220.5" y="483.6" font-size="11.55" fill="#111" stroke="#111" stroke-width="0.7">Scr</text>
<line x1="221.2" y1="514.2" x2="221.2" y2="566.2" stroke="#000" stroke-width="1.8"/>
<text x="224.9" y="534.3" font-size="11.55" fill="#111" stroke="#111" stroke-width="0.7">GPR84</text>
<text x="227.8" y="548.2" font-size="11.5" fill="#111" stroke="#111" stroke-width="0.7">KD#1</text>
<text x="18.5" y="520.9" font-size="12.95" text-anchor="middle" fill="#111" font-weight="bold" stroke="#111" stroke-width="0.1" transform="rotate(-90 18.5 520.9)">% Max</text>
<line x1="14.9" y1="556.1" x2="14.9" y2="599" stroke="#222" stroke-width="1.3"/>
<path d="M14.9 547.1 L20 556.6 L9.8 556.6Z" fill="#000" stroke="none"/>
<line x1="14.25" y1="599" x2="53.5" y2="599" stroke="#222" stroke-width="1.3"/>
<path d="M62.5 599 L53 594.4 L53 603.6Z" fill="#000" stroke="none"/>
<text x="71.25" y="605.5" font-size="13.1" fill="#111" stroke="#111" stroke-width="0.35">β-catenin V450</text>
<text x="261.8" y="433.3" font-size="19.8" fill="#000" font-weight="bold" stroke="#000" stroke-width="0.2">F</text>
<line x1="317.4" y1="433.6" x2="317.4" y2="569.5" stroke="#888" stroke-width="1.1"/>
<line x1="314.2" y1="569" x2="518.8" y2="569" stroke="#888" stroke-width="1.3"/>
<line x1="314.2" y1="569" x2="317.4" y2="569" stroke="#888" stroke-width="1.1"/>
<text x="310.9" y="572.8" font-size="9" text-anchor="end" fill="#111" font-weight="bold" stroke="#111" stroke-width="0.1">0</text>
<line x1="314.2" y1="542.02" x2="317.4" y2="542.02" stroke="#888" stroke-width="1.1"/>
<text x="310.9" y="545.82" font-size="9" text-anchor="end" fill="#111" font-weight="bold" stroke="#111" stroke-width="0.1">20</text>
<line x1="314.2" y1="515.04" x2="317.4" y2="515.04" stroke="#888" stroke-width="1.1"/>
<text x="310.9" y="518.84" font-size="9" text-anchor="end" fill="#111" font-weight="bold" stroke="#111" stroke-width="0.1">40</text>
<line x1="314.2" y1="488.06" x2="317.4" y2="488.06" stroke="#888" stroke-width="1.1"/>
<text x="310.9" y="491.86" font-size="9" text-anchor="end" fill="#111" font-weight="bold" stroke="#111" stroke-width="0.1">60</text>
<line x1="314.2" y1="461.08" x2="317.4" y2="461.08" stroke="#888" stroke-width="1.1"/>
<text x="310.9" y="464.88" font-size="9" text-anchor="end" fill="#111" font-weight="bold" stroke="#111" stroke-width="0.1">80</text>
<line x1="314.2" y1="434.1" x2="317.4" y2="434.1" stroke="#888" stroke-width="1.1"/>
<text x="310.9" y="437.9" font-size="9" text-anchor="end" fill="#111" font-weight="bold" stroke="#111" stroke-width="0.1">100</text>
<line x1="317.4" y1="569" x2="317.4" y2="572.4" stroke="#888" stroke-width="1.1"/>
<text x="317.4" y="582" font-size="9.3" text-anchor="middle" fill="#111" font-weight="bold" stroke="#111" stroke-width="0.1">0</text>
<line x1="341.01" y1="569" x2="341.01" y2="572.4" stroke="#888" stroke-width="1.1"/>
<text x="341.01" y="582" font-size="9.3" text-anchor="middle" fill="#111" font-weight="bold" stroke="#111" stroke-width="0.1">7</text>
<line x1="364.62" y1="569" x2="364.62" y2="572.4" stroke="#888" stroke-width="1.1"/>
<text x="364.62" y="582" font-size="9.3" text-anchor="middle" fill="#111" font-weight="bold" stroke="#111" stroke-width="0.1">14</text>
<line x1="388.24" y1="569" x2="388.24" y2="572.4" stroke="#888" stroke-width="1.1"/>
<text x="388.24" y="582" font-size="9.3" text-anchor="middle" fill="#111" font-weight="bold" stroke="#111" stroke-width="0.1">21</text>
<line x1="411.85" y1="569" x2="411.85" y2="572.4" stroke="#888" stroke-width="1.1"/>
<text x="411.85" y="582" font-size="9.3" text-anchor="middle" fill="#111" font-weight="bold" stroke="#111" stroke-width="0.1">28</text>
<line x1="435.46" y1="569" x2="435.46" y2="572.4" stroke="#888" stroke-width="1.1"/>
<text x="435.46" y="582" font-size="9.3" text-anchor="middle" fill="#111" font-weight="bold" stroke="#111" stroke-width="0.1">35</text>
<line x1="459.08" y1="569" x2="459.08" y2="572.4" stroke="#888" stroke-width="1.1"/>
<text x="459.08" y="582" font-size="9.3" text-anchor="middle" fill="#111" font-weight="bold" stroke="#111" stroke-width="0.1">42</text>
<line x1="482.69" y1="569" x2="482.69" y2="572.4" stroke="#888" stroke-width="1.1"/>
<text x="482.69" y="582" font-size="9.3" text-anchor="middle" fill="#111" font-weight="bold" stroke="#111" stroke-width="0.1">49</text>
<line x1="506.3" y1="569" x2="506.3" y2="572.4" stroke="#888" stroke-width="1.1"/>
<text x="506.3" y="582" font-size="9.3" text-anchor="middle" fill="#111" font-weight="bold" stroke="#111" stroke-width="0.1">56</text>
<text x="417.2" y="599.8" font-size="11.3" text-anchor="middle" fill="#111" stroke="#111" stroke-width="0.7">Days after transplant</text>
<text x="289" y="501.4" font-size="11.3" text-anchor="middle" fill="#111" stroke="#111" stroke-width="0.7" transform="rotate(-90 289 501.4)">% Survival</text>
<path d="M317.4 434.1 L477.5 434.1 L477.5 445.3 L488 445.3 L488 512.75 L498 512.75 L498 569" fill="none" stroke="#000" stroke-width="1.7"/>
<path d="M383.4 434.1 L383.4 445.3 L386.5 445.3 L386.5 479.02 L390 479.02 L390 569" fill="none" stroke="#000" stroke-width="1.7" stroke-dasharray="3.8 1.3"/>
<text x="411.3" y="478.9" font-size="11.15" fill="#111" stroke="#111" stroke-width="0.7"><tspan font-style="italic">P</tspan> &lt; 0.0001</text>
<line x1="403.8" y1="513.5" x2="419.2" y2="513.5" stroke="#000" stroke-width="1.7" stroke-dasharray="3.8 1.3"/>
<text x="431.4" y="514.6" font-size="11.4" fill="#111" stroke="#111" stroke-width="0.7">Scr</text>
<text x="426.1" y="527.7" font-size="11.4" fill="#111" stroke="#111" stroke-width="0.7">(n=12)</text>
<line x1="403.8" y1="547.5" x2="419.2" y2="547.5" stroke="#000" stroke-width="1.7"/>
<text x="426.2" y="548.5" font-size="11.35" fill="#111" stroke="#111" stroke-width="0.7">GPR84 KD#1</text>
<text x="426.1" y="560.4" font-size="11.4" fill="#111" stroke="#111" stroke-width="0.7">(n=12)</text>
<text x="0.9" y="639.4" font-size="19.8" fill="#000" font-weight="bold" stroke="#000" stroke-width="0.2">G</text>
<line x1="36.3" y1="650.4" x2="36.3" y2="782" stroke="#222" stroke-width="1.3"/>
<line x1="33" y1="781.4" x2="232.5" y2="781.4" stroke="#222" stroke-width="1.3"/>
<line x1="33" y1="781.4" x2="36.3" y2="781.4" stroke="#222" stroke-width="1.3"/>
<text x="31.5" y="785" font-size="9.5" text-anchor="end" fill="#111" font-weight="bold" stroke="#111" stroke-width="0.1">0</text>
<line x1="33" y1="755.32" x2="36.3" y2="755.32" stroke="#222" stroke-width="1.3"/>
<text x="31.5" y="758.92" font-size="9.5" text-anchor="end" fill="#111" font-weight="bold" stroke="#111" stroke-width="0.1">20</text>
<line x1="33" y1="729.24" x2="36.3" y2="729.24" stroke="#222" stroke-width="1.3"/>
<text x="31.5" y="732.84" font-size="9.5" text-anchor="end" fill="#111" font-weight="bold" stroke="#111" stroke-width="0.1">40</text>
<line x1="33" y1="703.16" x2="36.3" y2="703.16" stroke="#222" stroke-width="1.3"/>
<text x="31.5" y="706.76" font-size="9.5" text-anchor="end" fill="#111" font-weight="bold" stroke="#111" stroke-width="0.1">60</text>
<line x1="33" y1="677.08" x2="36.3" y2="677.08" stroke="#222" stroke-width="1.3"/>
<text x="31.5" y="680.68" font-size="9.5" text-anchor="end" fill="#111" font-weight="bold" stroke="#111" stroke-width="0.1">80</text>
<line x1="33" y1="651" x2="36.3" y2="651" stroke="#222" stroke-width="1.3"/>
<text x="31.5" y="654.6" font-size="9.5" text-anchor="end" fill="#111" font-weight="bold" stroke="#111" stroke-width="0.1">100</text>
<line x1="36.3" y1="781.4" x2="36.3" y2="784.8" stroke="#222" stroke-width="1.3"/>
<text x="36.3" y="793.9" font-size="9.5" text-anchor="middle" fill="#111" font-weight="bold" stroke="#111" stroke-width="0.1">0</text>
<line x1="75.54" y1="781.4" x2="75.54" y2="784.8" stroke="#222" stroke-width="1.3"/>
<text x="75.54" y="793.9" font-size="9.5" text-anchor="middle" fill="#111" font-weight="bold" stroke="#111" stroke-width="0.1">30</text>
<line x1="114.78" y1="781.4" x2="114.78" y2="784.8" stroke="#222" stroke-width="1.3"/>
<text x="114.78" y="793.9" font-size="9.5" text-anchor="middle" fill="#111" font-weight="bold" stroke="#111" stroke-width="0.1">60</text>
<line x1="154.02" y1="781.4" x2="154.02" y2="784.8" stroke="#222" stroke-width="1.3"/>
<text x="154.02" y="793.9" font-size="9.5" text-anchor="middle" fill="#111" font-weight="bold" stroke="#111" stroke-width="0.1">90</text>
<line x1="193.26" y1="781.4" x2="193.26" y2="784.8" stroke="#222" stroke-width="1.3"/>
<text x="193.26" y="793.9" font-size="9.5" text-anchor="middle" fill="#111" font-weight="bold" stroke="#111" stroke-width="0.1">120</text>
<line x1="232.5" y1="781.4" x2="232.5" y2="784.8" stroke="#222" stroke-width="1.3"/>
<text x="232.5" y="793.9" font-size="9.5" text-anchor="middle" fill="#111" font-weight="bold" stroke="#111" stroke-width="0.1">150</text>
<text x="132.5" y="811.7" font-size="11" text-anchor="middle" fill="#111" stroke="#111" stroke-width="0.7">Days after transplant</text>
<text x="9" y="715.3" font-size="11.3" text-anchor="middle" fill="#111" stroke="#111" stroke-width="0.7" transform="rotate(-90 9 715.3)">% Survival</text>
<path d="M66.5 651 L68.5 651 L68.5 683.6 L69.9 683.6 L69.9 716.2 L73 716.2 L73 759.62 L74.2 759.62 L74.2 770.58 L75.5 770.58 L75.5 781.4" fill="none" stroke="#000" stroke-width="1.7" stroke-dasharray="3.8 1.3"/>
<path d="M70.4 651 L70.4 661.82 L75 661.82 L75 683.6 L81.9 683.6 L81.9 694.42 L83.1 694.42 L83.1 727.02 L88.1 727.02 L88.1 737.98 L92.8 737.98 L92.8 748.8 L101.3 748.8 L101.3 759.62 L105.8 759.62 L105.8 770.58 L108 770.58 L108 781.4" fill="none" stroke="#000" stroke-width="1.7" stroke-dasharray="3.8 1.3"/>
<line x1="151" y1="651" x2="232.3" y2="651" stroke="#000" stroke-width="1.7" stroke-dasharray="3.8 1.3"/>
<path d="M36.3 651 L100.4 651 L100.4 661.82 L101.9 661.82 L101.9 672.78 L108.1 672.78 L108.1 683.6 L125.8 683.6 L125.8 703.16 L127.4 703.16 L127.4 722.72 L135.5 722.72 L135.5 781.4" fill="none" stroke="#000" stroke-width="1.7"/>
<path d="M100 651 L151.3 651 L151.3 672.78 L153.3 672.78 L153.3 716.2 L180 716.2 L180 737.98 L232.3 737.98" fill="none" stroke="#000" stroke-width="1.7"/>
<line x1="169.4" y1="673.3" x2="185.1" y2="673.3" stroke="#000" stroke-width="1.7" stroke-dasharray="3.8 1.3"/>
<text x="192.1" y="677.1" font-size="11.4" fill="#111" stroke="#111" stroke-width="0.7">Scr (n=12)</text>
<line x1="169.4" y1="691.4" x2="185.1" y2="691.4" stroke="#000" stroke-width="1.7"/>
<text x="192.1" y="696" font-size="11.25" fill="#111" stroke="#111" stroke-width="0.7">GPR84 KD#1</text>
<text x="202.8" y="706.9" font-size="11.5" fill="#111" stroke="#111" stroke-width="0.7">(n=12)</text>
<text x="235.6" y="654.6" font-size="11.3" fill="#111" stroke="#111" stroke-width="0.7">100</text>
<text x="236.7" y="741.2" font-size="10.8" fill="#111" stroke="#111" stroke-width="0.7">1x10<tspan font-size="8" dy="-3.9" dx="1.6">3</tspan></text>
<text x="40.3" y="773.7" font-size="10.8" fill="#111" stroke="#111" stroke-width="0.7">1x10<tspan font-size="8" dy="-3.9" dx="1.6">4</tspan></text>
<text x="99" y="743.5" font-size="10.8" fill="#111" stroke="#111" stroke-width="0.7">1x10<tspan font-size="8" dy="-3.9" dx="1.6">3</tspan></text>
<text x="141.6" y="767.2" font-size="10.8" fill="#111" stroke="#111" stroke-width="0.7">1x10<tspan font-size="8" dy="-3.9" dx="1.6">4</tspan></text>
<text x="301.1" y="639.3" font-size="19.8" fill="#000" font-weight="bold" stroke="#000" stroke-width="0.2">H</text>
<text x="411.8" y="641.6" font-size="13" text-anchor="middle" fill="#111" stroke="#111" stroke-width="0.35">Scr</text>
<rect x="347" y="649" width="132.3" height="132.3" fill="none" stroke="#555" stroke-width="1.1"/>
<line x1="343.2" y1="781.3" x2="347" y2="781.3" stroke="#555" stroke-width="0.8"/>
<text x="341.2" y="783.5" font-size="6.3" text-anchor="end" fill="#333" stroke="#333" stroke-width="0.1">0</text>
<line x1="345.4" y1="774.58" x2="347" y2="774.58" stroke="#555" stroke-width="0.8"/>
<line x1="345.4" y1="767.86" x2="347" y2="767.86" stroke="#555" stroke-width="0.8"/>
<line x1="345.4" y1="761.14" x2="347" y2="761.14" stroke="#555" stroke-width="0.8"/>
<line x1="345.4" y1="754.42" x2="347" y2="754.42" stroke="#555" stroke-width="0.8"/>
<line x1="343.2" y1="747.7" x2="347" y2="747.7" stroke="#555" stroke-width="0.8"/>
<text x="341.2" y="749.9" font-size="6.3" text-anchor="end" fill="#333" stroke="#333" stroke-width="0.1">50</text>
<line x1="345.4" y1="740.98" x2="347" y2="740.98" stroke="#555" stroke-width="0.8"/>
<line x1="345.4" y1="734.26" x2="347" y2="734.26" stroke="#555" stroke-width="0.8"/>
<line x1="345.4" y1="727.54" x2="347" y2="727.54" stroke="#555" stroke-width="0.8"/>
<line x1="345.4" y1="720.82" x2="347" y2="720.82" stroke="#555" stroke-width="0.8"/>
<line x1="343.2" y1="714.1" x2="347" y2="714.1" stroke="#555" stroke-width="0.8"/>
<text x="341.2" y="716.3" font-size="6.3" text-anchor="end" fill="#333" stroke="#333" stroke-width="0.1">100</text>
<line x1="345.4" y1="707.38" x2="347" y2="707.38" stroke="#555" stroke-width="0.8"/>
<line x1="345.4" y1="700.66" x2="347" y2="700.66" stroke="#555" stroke-width="0.8"/>
<line x1="345.4" y1="693.94" x2="347" y2="693.94" stroke="#555" stroke-width="0.8"/>
<line x1="345.4" y1="687.22" x2="347" y2="687.22" stroke="#555" stroke-width="0.8"/>
<line x1="343.2" y1="680.5" x2="347" y2="680.5" stroke="#555" stroke-width="0.8"/>
<text x="341.2" y="682.7" font-size="6.3" text-anchor="end" fill="#333" stroke="#333" stroke-width="0.1">150</text>
<line x1="345.4" y1="673.78" x2="347" y2="673.78" stroke="#555" stroke-width="0.8"/>
<line x1="345.4" y1="667.06" x2="347" y2="667.06" stroke="#555" stroke-width="0.8"/>
<line x1="345.4" y1="660.34" x2="347" y2="660.34" stroke="#555" stroke-width="0.8"/>
<line x1="345.4" y1="653.62" x2="347" y2="653.62" stroke="#555" stroke-width="0.8"/>
<line x1="349.65" y1="781.3" x2="349.65" y2="783.1" stroke="#555" stroke-width="0.7"/>
<line x1="351.2" y1="781.3" x2="351.2" y2="783.1" stroke="#555" stroke-width="0.7"/>
<line x1="352.57" y1="781.3" x2="352.57" y2="783.1" stroke="#555" stroke-width="0.7"/>
<line x1="353.8" y1="781.3" x2="353.8" y2="784.8" stroke="#555" stroke-width="0.7"/>
<line x1="361.87" y1="781.3" x2="361.87" y2="783.1" stroke="#555" stroke-width="0.7"/>
<line x1="366.59" y1="781.3" x2="366.59" y2="783.1" stroke="#555" stroke-width="0.7"/>
<line x1="369.94" y1="781.3" x2="369.94" y2="783.1" stroke="#555" stroke-width="0.7"/>
<line x1="372.53" y1="781.3" x2="372.53" y2="783.1" stroke="#555" stroke-width="0.7"/>
<line x1="374.65" y1="781.3" x2="374.65" y2="783.1" stroke="#555" stroke-width="0.7"/>
<line x1="376.45" y1="781.3" x2="376.45" y2="783.1" stroke="#555" stroke-width="0.7"/>
<line x1="378" y1="781.3" x2="378" y2="783.1" stroke="#555" stroke-width="0.7"/>
<line x1="379.37" y1="781.3" x2="379.37" y2="783.1" stroke="#555" stroke-width="0.7"/>
<line x1="380.6" y1="781.3" x2="380.6" y2="784.8" stroke="#555" stroke-width="0.7"/>
<line x1="388.67" y1="781.3" x2="388.67" y2="783.1" stroke="#555" stroke-width="0.7"/>
<line x1="393.39" y1="781.3" x2="393.39" y2="783.1" stroke="#555" stroke-width="0.7"/>
<line x1="396.74" y1="781.3" x2="396.74" y2="783.1" stroke="#555" stroke-width="0.7"/>
<line x1="399.33" y1="781.3" x2="399.33" y2="783.1" stroke="#555" stroke-width="0.7"/>
<line x1="401.45" y1="781.3" x2="401.45" y2="783.1" stroke="#555" stroke-width="0.7"/>
<line x1="403.25" y1="781.3" x2="403.25" y2="783.1" stroke="#555" stroke-width="0.7"/>
<line x1="404.8" y1="781.3" x2="404.8" y2="783.1" stroke="#555" stroke-width="0.7"/>
<line x1="406.17" y1="781.3" x2="406.17" y2="783.1" stroke="#555" stroke-width="0.7"/>
<line x1="407.4" y1="781.3" x2="407.4" y2="784.8" stroke="#555" stroke-width="0.7"/>
<line x1="415.47" y1="781.3" x2="415.47" y2="783.1" stroke="#555" stroke-width="0.7"/>
<line x1="420.19" y1="781.3" x2="420.19" y2="783.1" stroke="#555" stroke-width="0.7"/>
<line x1="423.54" y1="781.3" x2="423.54" y2="783.1" stroke="#555" stroke-width="0.7"/>
<line x1="426.13" y1="781.3" x2="426.13" y2="783.1" stroke="#555" stroke-width="0.7"/>
<line x1="428.25" y1="781.3" x2="428.25" y2="783.1" stroke="#555" stroke-width="0.7"/>
<line x1="430.05" y1="781.3" x2="430.05" y2="783.1" stroke="#555" stroke-width="0.7"/>
<line x1="431.6" y1="781.3" x2="431.6" y2="783.1" stroke="#555" stroke-width="0.7"/>
<line x1="432.97" y1="781.3" x2="432.97" y2="783.1" stroke="#555" stroke-width="0.7"/>
<line x1="434.2" y1="781.3" x2="434.2" y2="784.8" stroke="#555" stroke-width="0.7"/>
<line x1="442.27" y1="781.3" x2="442.27" y2="783.1" stroke="#555" stroke-width="0.7"/>
<line x1="446.99" y1="781.3" x2="446.99" y2="783.1" stroke="#555" stroke-width="0.7"/>
<line x1="450.34" y1="781.3" x2="450.34" y2="783.1" stroke="#555" stroke-width="0.7"/>
<line x1="452.93" y1="781.3" x2="452.93" y2="783.1" stroke="#555" stroke-width="0.7"/>
<line x1="455.05" y1="781.3" x2="455.05" y2="783.1" stroke="#555" stroke-width="0.7"/>
<line x1="456.85" y1="781.3" x2="456.85" y2="783.1" stroke="#555" stroke-width="0.7"/>
<line x1="458.4" y1="781.3" x2="458.4" y2="783.1" stroke="#555" stroke-width="0.7"/>
<line x1="459.77" y1="781.3" x2="459.77" y2="783.1" stroke="#555" stroke-width="0.7"/>
<line x1="461" y1="781.3" x2="461" y2="784.8" stroke="#555" stroke-width="0.7"/>
<line x1="469.07" y1="781.3" x2="469.07" y2="783.1" stroke="#555" stroke-width="0.7"/>
<line x1="473.79" y1="781.3" x2="473.79" y2="783.1" stroke="#555" stroke-width="0.7"/>
<line x1="477.14" y1="781.3" x2="477.14" y2="783.1" stroke="#555" stroke-width="0.7"/>
<text x="351.5" y="794.5" font-size="6.8" fill="#222" stroke="#222" stroke-width="0.12">10<tspan font-size="5.4" dy="-5">1</tspan></text>
<text x="378.3" y="794.5" font-size="6.8" fill="#222" stroke="#222" stroke-width="0.12">10<tspan font-size="5.4" dy="-5">2</tspan></text>
<text x="405.1" y="794.5" font-size="6.8" fill="#222" stroke="#222" stroke-width="0.12">10<tspan font-size="5.4" dy="-5">3</tspan></text>
<text x="431.9" y="794.5" font-size="6.8" fill="#222" stroke="#222" stroke-width="0.12">10<tspan font-size="5.4" dy="-5">4</tspan></text>
<text x="458.7" y="794.5" font-size="6.8" fill="#222" stroke="#222" stroke-width="0.12">10<tspan font-size="5.4" dy="-5">5</tspan></text>
<path d="M348.8 781.3 L351.3 776.5 L353.9 771.5 L357.7 769 L360.2 765.1 L362.7 758.8 L365.3 753.7 L367.2 743.6 L369 731 L370.3 722.1 L372.2 714.5 L374.1 708.2 L375.4 693 L376.6 674 L377.5 665 L378.2 661.3 L380 662 L381.1 663.5 L382.3 680.3 L383.6 705.6 L384.9 731 L386.8 749.9 L388.7 760.1 L391.8 765.1 L395.6 769 L399.4 770.2 L404.5 770.8 L405.8 771.7 L417.3 771.7 L420.2 770 L422.5 764.2 L425.4 759.6 L428.3 753.8 L430 745.8 L431.2 738.8 L432.3 729.6 L433.5 718.1 L434.4 708.8 L435.2 705.6 L436.3 712.3 L437.5 723.8 L438.7 735.4 L439.8 746.9 L441 758.5 L442.1 768.8 L443.3 775.8 L444.4 779.8 L446.2 781.3Z" fill="#6b6b6b" stroke="#555" stroke-width="0.6"/>
<text x="434.8" y="685.7" font-size="11.3" text-anchor="middle" fill="#111" font-weight="bold" stroke="#111" stroke-width="0.1">30.5%</text>
<line x1="413.8" y1="694.3" x2="455.5" y2="694.3" stroke="#333" stroke-width="1.2"/>
<line x1="413.8" y1="690.8" x2="413.8" y2="698.8" stroke="#333" stroke-width="1.2"/>
<line x1="455.5" y1="690.8" x2="455.5" y2="698.8" stroke="#333" stroke-width="1.2"/>
<text x="318.5" y="729" font-size="13" text-anchor="middle" fill="#111" font-weight="bold" stroke="#111" stroke-width="0.1" transform="rotate(-90 318.5 729)">% Max</text>
<line x1="315.4" y1="765" x2="315.4" y2="810" stroke="#222" stroke-width="1.3"/>
<path d="M315.4 755.2 L320.5 765.5 L310.3 765.5Z" fill="#000" stroke="none"/>
<line x1="314.75" y1="810" x2="359.2" y2="810" stroke="#222" stroke-width="1.3"/>
<path d="M367.7 810 L358.7 805.4 L358.7 814.6Z" fill="#000" stroke="none"/>
<text x="375.2" y="814.8" font-size="13.1" fill="#111" stroke="#111" stroke-width="0.35">BrdU APC</text>
<text x="1" y="850.3" font-size="19.8" fill="#000" font-weight="bold" stroke="#000" stroke-width="0.2">I</text>
<text x="130.5" y="853.3" font-size="12.9" text-anchor="middle" fill="#111" stroke="#111" stroke-width="0.35">GPR84 KD#1</text>
<rect x="63.6" y="862.2" width="130.9" height="130.8" fill="none" stroke="#555" stroke-width="1.1"/>
<line x1="59.8" y1="993" x2="63.6" y2="993" stroke="#555" stroke-width="0.8"/>
<text x="58.3" y="995.2" font-size="6.3" text-anchor="end" fill="#333" stroke="#333" stroke-width="0.1">0</text>
<line x1="62" y1="987.28" x2="63.6" y2="987.28" stroke="#555" stroke-width="0.8"/>
<line x1="62" y1="981.56" x2="63.6" y2="981.56" stroke="#555" stroke-width="0.8"/>
<line x1="62" y1="975.84" x2="63.6" y2="975.84" stroke="#555" stroke-width="0.8"/>
<line x1="62" y1="970.12" x2="63.6" y2="970.12" stroke="#555" stroke-width="0.8"/>
<line x1="59.8" y1="964.4" x2="63.6" y2="964.4" stroke="#555" stroke-width="0.8"/>
<text x="58.3" y="966.6" font-size="6.3" text-anchor="end" fill="#333" stroke="#333" stroke-width="0.1">50</text>
<line x1="62" y1="958.68" x2="63.6" y2="958.68" stroke="#555" stroke-width="0.8"/>
<line x1="62" y1="952.96" x2="63.6" y2="952.96" stroke="#555" stroke-width="0.8"/>
<line x1="62" y1="947.24" x2="63.6" y2="947.24" stroke="#555" stroke-width="0.8"/>
<line x1="62" y1="941.52" x2="63.6" y2="941.52" stroke="#555" stroke-width="0.8"/>
<line x1="59.8" y1="935.8" x2="63.6" y2="935.8" stroke="#555" stroke-width="0.8"/>
<text x="58.3" y="938" font-size="6.3" text-anchor="end" fill="#333" stroke="#333" stroke-width="0.1">100</text>
<line x1="62" y1="930.08" x2="63.6" y2="930.08" stroke="#555" stroke-width="0.8"/>
<line x1="62" y1="924.36" x2="63.6" y2="924.36" stroke="#555" stroke-width="0.8"/>
<line x1="62" y1="918.64" x2="63.6" y2="918.64" stroke="#555" stroke-width="0.8"/>
<line x1="62" y1="912.92" x2="63.6" y2="912.92" stroke="#555" stroke-width="0.8"/>
<line x1="59.8" y1="907.2" x2="63.6" y2="907.2" stroke="#555" stroke-width="0.8"/>
<text x="58.3" y="909.4" font-size="6.3" text-anchor="end" fill="#333" stroke="#333" stroke-width="0.1">150</text>
<line x1="62" y1="901.48" x2="63.6" y2="901.48" stroke="#555" stroke-width="0.8"/>
<line x1="62" y1="895.76" x2="63.6" y2="895.76" stroke="#555" stroke-width="0.8"/>
<line x1="62" y1="890.04" x2="63.6" y2="890.04" stroke="#555" stroke-width="0.8"/>
<line x1="62" y1="884.32" x2="63.6" y2="884.32" stroke="#555" stroke-width="0.8"/>
<line x1="59.8" y1="878.6" x2="63.6" y2="878.6" stroke="#555" stroke-width="0.8"/>
<text x="58.3" y="880.8" font-size="6.3" text-anchor="end" fill="#333" stroke="#333" stroke-width="0.1">200</text>
<line x1="62" y1="872.88" x2="63.6" y2="872.88" stroke="#555" stroke-width="0.8"/>
<line x1="62" y1="867.16" x2="63.6" y2="867.16" stroke="#555" stroke-width="0.8"/>
<line x1="64.89" y1="993" x2="64.89" y2="994.8" stroke="#555" stroke-width="0.7"/>
<line x1="66.64" y1="993" x2="66.64" y2="994.8" stroke="#555" stroke-width="0.7"/>
<line x1="68.16" y1="993" x2="68.16" y2="994.8" stroke="#555" stroke-width="0.7"/>
<line x1="69.5" y1="993" x2="69.5" y2="994.8" stroke="#555" stroke-width="0.7"/>
<line x1="70.7" y1="993" x2="70.7" y2="996.5" stroke="#555" stroke-width="0.7"/>
<line x1="78.59" y1="993" x2="78.59" y2="994.8" stroke="#555" stroke-width="0.7"/>
<line x1="83.2" y1="993" x2="83.2" y2="994.8" stroke="#555" stroke-width="0.7"/>
<line x1="86.47" y1="993" x2="86.47" y2="994.8" stroke="#555" stroke-width="0.7"/>
<line x1="89.01" y1="993" x2="89.01" y2="994.8" stroke="#555" stroke-width="0.7"/>
<line x1="91.09" y1="993" x2="91.09" y2="994.8" stroke="#555" stroke-width="0.7"/>
<line x1="92.84" y1="993" x2="92.84" y2="994.8" stroke="#555" stroke-width="0.7"/>
<line x1="94.36" y1="993" x2="94.36" y2="994.8" stroke="#555" stroke-width="0.7"/>
<line x1="95.7" y1="993" x2="95.7" y2="994.8" stroke="#555" stroke-width="0.7"/>
<line x1="96.9" y1="993" x2="96.9" y2="996.5" stroke="#555" stroke-width="0.7"/>
<line x1="104.79" y1="993" x2="104.79" y2="994.8" stroke="#555" stroke-width="0.7"/>
<line x1="109.4" y1="993" x2="109.4" y2="994.8" stroke="#555" stroke-width="0.7"/>
<line x1="112.67" y1="993" x2="112.67" y2="994.8" stroke="#555" stroke-width="0.7"/>
<line x1="115.21" y1="993" x2="115.21" y2="994.8" stroke="#555" stroke-width="0.7"/>
<line x1="117.29" y1="993" x2="117.29" y2="994.8" stroke="#555" stroke-width="0.7"/>
<line x1="119.04" y1="993" x2="119.04" y2="994.8" stroke="#555" stroke-width="0.7"/>
<line x1="120.56" y1="993" x2="120.56" y2="994.8" stroke="#555" stroke-width="0.7"/>
<line x1="121.9" y1="993" x2="121.9" y2="994.8" stroke="#555" stroke-width="0.7"/>
<line x1="123.1" y1="993" x2="123.1" y2="996.5" stroke="#555" stroke-width="0.7"/>
<line x1="130.99" y1="993" x2="130.99" y2="994.8" stroke="#555" stroke-width="0.7"/>
<line x1="135.6" y1="993" x2="135.6" y2="994.8" stroke="#555" stroke-width="0.7"/>
<line x1="138.87" y1="993" x2="138.87" y2="994.8" stroke="#555" stroke-width="0.7"/>
<line x1="141.41" y1="993" x2="141.41" y2="994.8" stroke="#555" stroke-width="0.7"/>
<line x1="143.49" y1="993" x2="143.49" y2="994.8" stroke="#555" stroke-width="0.7"/>
<line x1="145.24" y1="993" x2="145.24" y2="994.8" stroke="#555" stroke-width="0.7"/>
<line x1="146.76" y1="993" x2="146.76" y2="994.8" stroke="#555" stroke-width="0.7"/>
<line x1="148.1" y1="993" x2="148.1" y2="994.8" stroke="#555" stroke-width="0.7"/>
<line x1="149.3" y1="993" x2="149.3" y2="996.5" stroke="#555" stroke-width="0.7"/>
<line x1="157.19" y1="993" x2="157.19" y2="994.8" stroke="#555" stroke-width="0.7"/>
<line x1="161.8" y1="993" x2="161.8" y2="994.8" stroke="#555" stroke-width="0.7"/>
<line x1="165.07" y1="993" x2="165.07" y2="994.8" stroke="#555" stroke-width="0.7"/>
<line x1="167.61" y1="993" x2="167.61" y2="994.8" stroke="#555" stroke-width="0.7"/>
<line x1="169.69" y1="993" x2="169.69" y2="994.8" stroke="#555" stroke-width="0.7"/>
<line x1="171.44" y1="993" x2="171.44" y2="994.8" stroke="#555" stroke-width="0.7"/>
<line x1="172.96" y1="993" x2="172.96" y2="994.8" stroke="#555" stroke-width="0.7"/>
<line x1="174.3" y1="993" x2="174.3" y2="994.8" stroke="#555" stroke-width="0.7"/>
<line x1="175.5" y1="993" x2="175.5" y2="996.5" stroke="#555" stroke-width="0.7"/>
<line x1="183.39" y1="993" x2="183.39" y2="994.8" stroke="#555" stroke-width="0.7"/>
<line x1="188" y1="993" x2="188" y2="994.8" stroke="#555" stroke-width="0.7"/>
<line x1="191.27" y1="993" x2="191.27" y2="994.8" stroke="#555" stroke-width="0.7"/>
<text x="68.4" y="1006" font-size="6.8" fill="#222" stroke="#222" stroke-width="0.12">10<tspan font-size="5.4" dy="-5">1</tspan></text>
<text x="94.6" y="1006" font-size="6.8" fill="#222" stroke="#222" stroke-width="0.12">10<tspan font-size="5.4" dy="-5">2</tspan></text>
<text x="120.8" y="1006" font-size="6.8" fill="#222" stroke="#222" stroke-width="0.12">10<tspan font-size="5.4" dy="-5">3</tspan></text>
<text x="147" y="1006" font-size="6.8" fill="#222" stroke="#222" stroke-width="0.12">10<tspan font-size="5.4" dy="-5">4</tspan></text>
<text x="173.2" y="1006" font-size="6.8" fill="#222" stroke="#222" stroke-width="0.12">10<tspan font-size="5.4" dy="-5">5</tspan></text>
<path d="M64.2 993 L65.2 990 L67.7 981.5 L69.6 979.6 L72.1 973.9 L74.7 970.1 L76.6 966.3 L78.5 956.1 L80.4 947.3 L82.3 937.2 L84.2 925.8 L86.1 908 L88 896.6 L89.2 884 L90.2 876 L91.1 870.7 L92.2 875 L93.4 880.2 L95.5 892.8 L96.4 906.8 L97.4 924.5 L98.7 943.5 L100 958.7 L101.9 971.3 L103.8 978.9 L106.3 980.2 L110.1 980.8 L113.9 982.7 L117.7 985.3 L122 985.9 L125.8 987.9 L131.5 989 L137.3 989 L143.1 987.9 L146.5 985 L149.4 980.4 L151.7 976.9 L153.7 975.8 L155.8 978.1 L157.5 982.7 L159.2 987.9 L161 991.3 L162.7 993Z" fill="#6b6b6b" stroke="#555" stroke-width="0.6"/>
<text x="156.7" y="915.8" font-size="11.1" text-anchor="middle" fill="#111" font-weight="bold" stroke="#111" stroke-width="0.1">10.3%</text>
<line x1="134.5" y1="923.1" x2="176" y2="923.1" stroke="#333" stroke-width="1.2"/>
<line x1="134.5" y1="918.8" x2="134.5" y2="927.3" stroke="#333" stroke-width="1.2"/>
<line x1="176" y1="918.8" x2="176" y2="927.3" stroke="#333" stroke-width="1.2"/>
<text x="38.9" y="938.4" font-size="12.95" text-anchor="middle" fill="#111" font-weight="bold" stroke="#111" stroke-width="0.1" transform="rotate(-90 38.9 938.4)">% Max</text>
<line x1="35.3" y1="975.5" x2="35.3" y2="1020.3" stroke="#222" stroke-width="1.3"/>
<path d="M35.3 965.4 L40.4 976 L30.2 976Z" fill="#000" stroke="none"/>
<line x1="34.65" y1="1020.3" x2="78.5" y2="1020.3" stroke="#222" stroke-width="1.3"/>
<path d="M87.5 1020.3 L78 1015.7 L78 1024.9Z" fill="#000" stroke="none"/>
<text x="94.1" y="1025" font-size="13.3" fill="#111" stroke="#111" stroke-width="0.35">BrdU APC</text>
<text x="253" y="850.3" font-size="19.8" fill="#000" font-weight="bold" stroke="#000" stroke-width="0.2">J</text>
<line x1="298.5" y1="862.5" x2="298.5" y2="999.2" stroke="#333" stroke-width="1.1"/>
<line x1="295" y1="998.7" x2="498" y2="998.7" stroke="#333" stroke-width="1.1"/>
<line x1="295" y1="998.7" x2="298.5" y2="998.7" stroke="#333" stroke-width="1.1"/>
<text x="293.3" y="1002.4" font-size="10.2" text-anchor="end" fill="#111" stroke="#111" stroke-width="0.6">0</text>
<line x1="295" y1="976.08" x2="298.5" y2="976.08" stroke="#333" stroke-width="1.1"/>
<text x="293.3" y="979.78" font-size="10.2" text-anchor="end" fill="#111" stroke="#111" stroke-width="0.6">10</text>
<line x1="295" y1="953.47" x2="298.5" y2="953.47" stroke="#333" stroke-width="1.1"/>
<text x="293.3" y="957.17" font-size="10.2" text-anchor="end" fill="#111" stroke="#111" stroke-width="0.6">20</text>
<line x1="295" y1="930.85" x2="298.5" y2="930.85" stroke="#333" stroke-width="1.1"/>
<text x="293.3" y="934.55" font-size="10.2" text-anchor="end" fill="#111" stroke="#111" stroke-width="0.6">30</text>
<line x1="295" y1="908.23" x2="298.5" y2="908.23" stroke="#333" stroke-width="1.1"/>
<text x="293.3" y="911.93" font-size="10.2" text-anchor="end" fill="#111" stroke="#111" stroke-width="0.6">40</text>
<line x1="295" y1="885.62" x2="298.5" y2="885.62" stroke="#333" stroke-width="1.1"/>
<text x="293.3" y="889.32" font-size="10.2" text-anchor="end" fill="#111" stroke="#111" stroke-width="0.6">50</text>
<line x1="295" y1="863" x2="298.5" y2="863" stroke="#333" stroke-width="1.1"/>
<text x="293.3" y="866.7" font-size="10.2" text-anchor="end" fill="#111" stroke="#111" stroke-width="0.6">60</text>
<line x1="348.8" y1="998.7" x2="348.8" y2="1002.2" stroke="#333" stroke-width="1.1"/>
<line x1="448.3" y1="998.7" x2="448.3" y2="1002.2" stroke="#333" stroke-width="1.1"/>
<text x="348.3" y="1014" font-size="11.5" text-anchor="middle" fill="#111" stroke="#111" stroke-width="0.7">Scr</text>
<text x="445.9" y="1013.5" font-size="11.2" text-anchor="middle" fill="#111" stroke="#111" stroke-width="0.7">GPR84 KD#1</text>
<text x="268.3" y="972.6" font-size="11.45" fill="#111" stroke="#111" stroke-width="0.7" transform="rotate(-90 268.3 972.6)">% of BrdU<tspan dy="-6">+</tspan><tspan dy="6"> cells</tspan></text>
<text x="397.6" y="871" font-size="11.45" text-anchor="middle" fill="#111" stroke="#111" stroke-width="0.7"><tspan font-style="italic">P</tspan> = 0.0009</text>
<path d="M348.5 915 L348.5 879.5 L448.3 879.5 L448.3 929.5" fill="none" stroke="#333" stroke-width="1.3"/>
<circle cx="340.7" cy="925.9" r="2.75" fill="#111"/>
<circle cx="344.8" cy="934.8" r="2.75" fill="#111"/>
<circle cx="349.1" cy="932.9" r="2.75" fill="#111"/>
<circle cx="356.9" cy="931.3" r="2.75" fill="#111"/>
<circle cx="352.3" cy="942.3" r="2.75" fill="#111"/>
<circle cx="348.8" cy="951" r="2.75" fill="#111"/>
<line x1="315.4" y1="933.5" x2="382" y2="933.5" stroke="#111" stroke-width="1.5"/>
<path d="M448.3 944.77L451 949.74L445.6 949.74Z" fill="#111"/>
<path d="M448.3 953.57L451 958.54L445.6 958.54Z" fill="#111"/>
<path d="M444.3 964.27L447 969.24L441.6 969.24Z" fill="#111"/>
<path d="M452.5 964.77L455.2 969.74L449.8 969.74Z" fill="#111"/>
<path d="M452.5 974.27L455.2 979.24L449.8 979.24Z" fill="#111"/>
<path d="M443.8 979.77L446.5 984.74L441.1 984.74Z" fill="#111"/>
<line x1="415" y1="967" x2="481.3" y2="967" stroke="#111" stroke-width="1.5"/>
</g>
</svg>
</body></html>
